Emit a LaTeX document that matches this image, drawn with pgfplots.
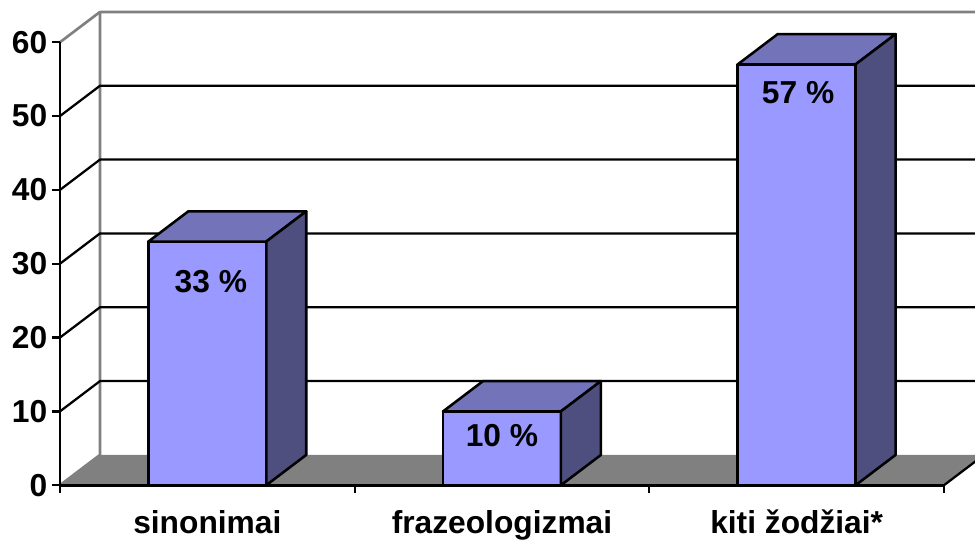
\documentclass[border=0pt]{standalone}
\usepackage{pgfplots}
\pgfplotsset{compat=1.18}
\usepackage{fontspec}
\setmainfont{Liberation Sans}
\definecolor{front}{HTML}{9999FF}
\definecolor{topc}{HTML}{7373BA}
\definecolor{sidec}{HTML}{4F4F7F}
\definecolor{wall}{HTML}{808080}
\begin{document}
\begin{tikzpicture}[line join=round]
\path[use as bounding box] (0pt,0pt) rectangle (731.25pt,405pt);
\begin{axis}[
  at={(45pt,41.1pt)}, anchor=south west,
  scale only axis, width=663pt, height=332.25pt,
  xmin=0, xmax=3, ymin=0, ymax=60,
  clip=false, axis on top,
  axis x line=bottom, axis y line=left,
  axis line style={-, line width=2pt, black},
  xtick={0,1,2,3}, xticklabels={},
  extra x ticks={0.5,1.5,2.5},
  extra x tick labels={sinonimai,frazeologizmai,kiti žodžiai*},
  extra x tick style={major tick length=0pt, xticklabel style={yshift=-15.2pt}},
  ytick={0,10,20,30,40,50,60},
  tick align=outside, major tick length=6pt,
  tick style={line width=1.7pt, black},
  /pgf/number format/assume math mode=true,
  ticklabel style={font=\fontsize{23.8}{25}\selectfont\bfseries},
  yticklabel style={xshift=0pt},
]
% floor
\addplot[fill=wall, draw=none] coordinates {(0,0) (3,0) (3.1357,4.1) (0.1357,4.1)} --cycle;
\addplot[line width=1.7pt, black] coordinates {(3,0) (3.1357,4.1)};
% back wall frame
\addplot[line width=2pt, wall] coordinates {(0,0) (0.1357,4.1) (0.1357,64.1) (3.1357,64.1)};
\addplot[line width=2pt, wall] coordinates {(0,60) (0.1357,64.1)};
% grid
\addplot[line width=1.7pt, black] coordinates {(0,10) (0.1357,14.1) (3.1357,14.1)};
\addplot[line width=1.7pt, black] coordinates {(0,20) (0.1357,24.1) (3.1357,24.1)};
\addplot[line width=1.7pt, black] coordinates {(0,30) (0.1357,34.1) (3.1357,34.1)};
\addplot[line width=1.7pt, black] coordinates {(0,40) (0.1357,44.1) (3.1357,44.1)};
\addplot[line width=1.7pt, black] coordinates {(0,50) (0.1357,54.1) (3.1357,54.1)};
% bar 1
\addplot[fill=front, draw=black, line width=1.9pt] coordinates {(0.3,0) (0.7,0) (0.7,33) (0.3,33)} --cycle;
\addplot[fill=topc, draw=black, line width=1.9pt] coordinates {(0.3,33) (0.7,33) (0.8357,37.1) (0.4357,37.1)} --cycle;
\addplot[fill=sidec, draw=black, line width=1.9pt] coordinates {(0.7,0) (0.8357,4.1) (0.8357,37.1) (0.7,33)} --cycle;
% bar 2
\addplot[fill=front, draw=black, line width=1.9pt] coordinates {(1.3,0) (1.7,0) (1.7,10) (1.3,10)} --cycle;
\addplot[fill=topc, draw=black, line width=1.9pt] coordinates {(1.3,10) (1.7,10) (1.8357,14.1) (1.4357,14.1)} --cycle;
\addplot[fill=sidec, draw=black, line width=1.9pt] coordinates {(1.7,0) (1.8357,4.1) (1.8357,14.1) (1.7,10)} --cycle;
% bar 3
\addplot[fill=front, draw=black, line width=1.9pt] coordinates {(2.3,0) (2.7,0) (2.7,57) (2.3,57)} --cycle;
\addplot[fill=topc, draw=black, line width=1.9pt] coordinates {(2.3,57) (2.7,57) (2.8357,61.1) (2.4357,61.1)} --cycle;
\addplot[fill=sidec, draw=black, line width=1.9pt] coordinates {(2.7,0) (2.8357,4.1) (2.8357,61.1) (2.7,57)} --cycle;
% value labels
\node[font=\fontsize{23.8}{25}\selectfont\bfseries] at (axis cs:0.512,27.6) {33 \%};
\node[font=\fontsize{23.8}{25}\selectfont\bfseries] at (axis cs:1.5,6.7) {10 \%};
\node[font=\fontsize{23.8}{25}\selectfont\bfseries] at (axis cs:2.505,53.2) {57 \%};
\end{axis}
\end{tikzpicture}
\end{document}
